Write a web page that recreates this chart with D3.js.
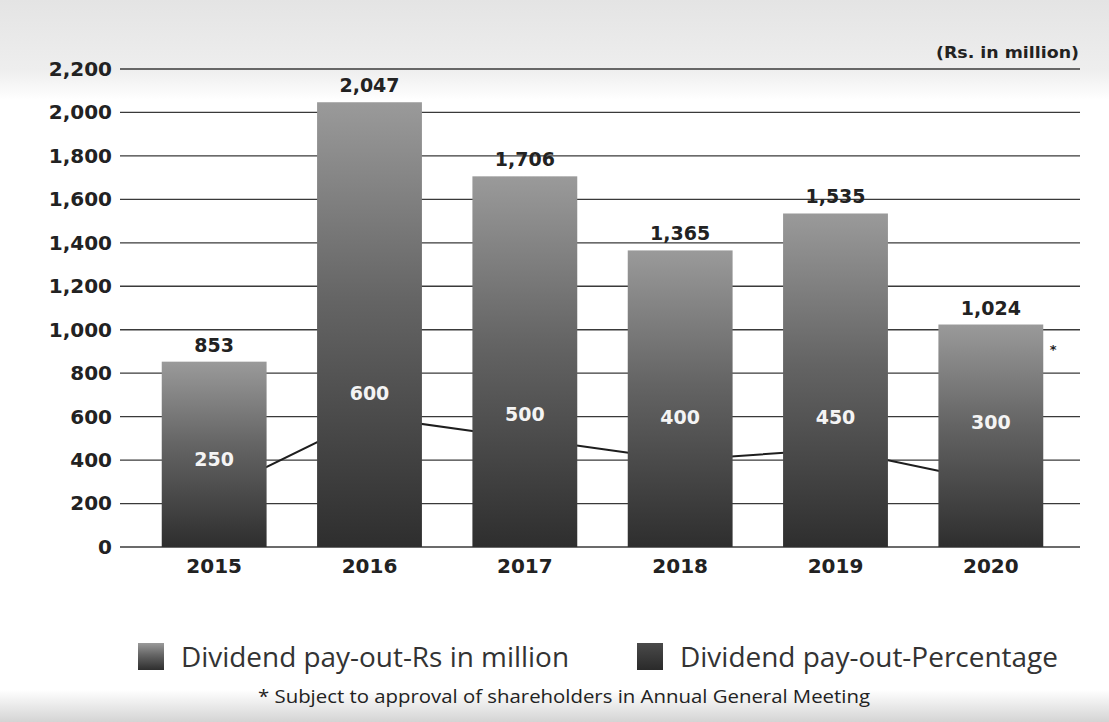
<!DOCTYPE html>
<html>
<head>
<meta charset="utf-8">
<script src="https://cdn.jsdelivr.net/npm/d3@7/dist/d3.min.js"></script>
<style>
  html, body { margin: 0; padding: 0; background: #fff; }
  svg { display: block; font-family: "DejaVu Sans", sans-serif; }
</style>
</head>
<body>
<svg id="chart" width="1109" height="722"></svg>
<script>
const years = ["2015", "2016", "2017", "2018", "2019", "2020"];
const payoutRs = [853, 2047, 1706, 1365, 1535, 1024];
const payoutPct = [250, 600, 500, 400, 450, 300];
const yTicks = [0, 200, 400, 600, 800, 1000, 1200, 1400, 1600, 1800, 2000, 2200];
const legendLabels = ["Dividend pay-out-Rs in million", "Dividend pay-out-Percentage"];
const unitLabel = "(Rs. in million)";
const footnote = "* Subject to approval of shareholders in Annual General Meeting";

const W = 1109, H = 722;
const svg = d3.select("#chart");
const defs = svg.append("defs");

// background bands
const topBg = defs.append("linearGradient").attr("id", "topBg").attr("x1", 0).attr("y1", 0).attr("x2", 0).attr("y2", 1);
topBg.append("stop").attr("offset", "0%").attr("stop-color", "#e4e4e4");
topBg.append("stop").attr("offset", "70%").attr("stop-color", "#eeeeee");
topBg.append("stop").attr("offset", "100%").attr("stop-color", "#ffffff");
svg.append("rect").attr("x", 0).attr("y", 0).attr("width", W).attr("height", 100).attr("fill", "url(#topBg)");
const botBg = defs.append("linearGradient").attr("id", "botBg").attr("x1", 0).attr("y1", 0).attr("x2", 0).attr("y2", 1);
botBg.append("stop").attr("offset", "0%").attr("stop-color", "#ffffff");
botBg.append("stop").attr("offset", "100%").attr("stop-color", "#d4d4d4");
svg.append("rect").attr("x", 0).attr("y", 690).attr("width", W).attr("height", 32).attr("fill", "url(#botBg)");

const barGrad = defs.append("linearGradient").attr("id", "barGrad").attr("x1", 0).attr("y1", 0).attr("x2", 0).attr("y2", 1);
barGrad.append("stop").attr("offset", "0%").attr("stop-color", "#9a9a9a");
barGrad.append("stop").attr("offset", "45%").attr("stop-color", "#646464");
barGrad.append("stop").attr("offset", "100%").attr("stop-color", "#2e2e2e");

const legGrad2 = defs.append("linearGradient").attr("id", "legGrad2").attr("x1", 0).attr("y1", 0).attr("x2", 0).attr("y2", 1);
legGrad2.append("stop").attr("offset", "0%").attr("stop-color", "#4a4a4a");
legGrad2.append("stop").attr("offset", "100%").attr("stop-color", "#2a2a2a");

const y = d3.scaleLinear().domain([0, 2200]).range([547, 69]);
const x = d3.scaleBand().domain(years).range([136.5, 1068.5]).paddingInner(0.325).paddingOuter(0.1625);

// y labels
const yAxis = d3.axisLeft(y).tickValues(yTicks).tickFormat(d3.format(",")).tickSize(0).tickPadding(0);
const gy = svg.append("g").attr("transform", "translate(112,0)").call(yAxis);
gy.select(".domain").remove();
gy.selectAll("text").attr("font-size", 20).attr("font-weight", 700).attr("fill", "#222")
  .attr("font-family", "'DejaVu Sans', sans-serif");

// grid lines
svg.append("g").selectAll("line").data(yTicks).join("line")
  .attr("x1", 120).attr("x2", 1080)
  .attr("y1", d => y(d)).attr("y2", d => y(d))
  .attr("stroke", "#3a3a3a").attr("stroke-width", 1.3);

// percentage line (behind bars)
const line = d3.line().x((d, i) => x(years[i]) + x.bandwidth() / 2).y(d => y(d));
svg.append("path").datum(payoutPct).attr("d", line)
  .attr("fill", "none").attr("stroke", "#1e1e1e").attr("stroke-width", 2);

// bars
svg.append("g").selectAll("rect").data(payoutRs).join("rect")
  .attr("x", (d, i) => x(years[i])).attr("width", x.bandwidth())
  .attr("y", d => y(d)).attr("height", d => y(0) - y(d))
  .attr("fill", "url(#barGrad)");

// value labels above bars
svg.append("g").selectAll("text").data(payoutRs).join("text")
  .attr("x", (d, i) => x(years[i]) + x.bandwidth() / 2)
  .attr("y", d => y(d) - 10)
  .attr("text-anchor", "middle").attr("font-size", 19).attr("font-weight", 700).attr("fill", "#222")
  .text(d3.format(","));

// percentage labels inside bars
svg.append("g").selectAll("text").data(payoutPct).join("text")
  .attr("x", (d, i) => x(years[i]) + x.bandwidth() / 2)
  .attr("y", (d, i) => y(Math.min(Math.max(d + 110, 600), payoutRs[i] - 450)) + 7)
  .attr("text-anchor", "middle").attr("font-size", 19).attr("font-weight", 700).attr("fill", "#f4f4f4")
  .text(d => d);

// x axis labels
const xAxis = d3.axisBottom(x).tickSize(0).tickPadding(0);
const gx = svg.append("g").attr("transform", "translate(0,559)").call(xAxis);
gx.select(".domain").remove();
gx.selectAll("text").attr("font-size", 20).attr("font-weight", 700).attr("fill", "#222")
  .attr("font-family", "'DejaVu Sans', sans-serif").attr("dy", "0.71em");

// asterisk for 2020
svg.append("text").attr("x", x("2020") + x.bandwidth() + 10).attr("y", y(1000) + 24)
  .attr("text-anchor", "middle").attr("font-size", 13).attr("font-weight", 700).attr("fill", "#222").text("*");

// unit label
svg.append("text").attr("x", 1079).attr("y", 58).attr("text-anchor", "end")
  .attr("font-size", 15).attr("font-weight", 700).attr("fill", "#222")
  .attr("textLength", 143).attr("lengthAdjust", "spacingAndGlyphs").text(unitLabel);

// legend
const leg = svg.append("g");
const legItems = [{x: 138, w: 388, fill: "url(#barGrad)"}, {x: 637, w: 378, fill: "url(#legGrad2)"}];
leg.selectAll("rect").data(legendLabels).join("rect")
  .attr("x", (d, i) => legItems[i].x).attr("y", 643).attr("width", 26).attr("height", 27)
  .attr("fill", (d, i) => legItems[i].fill);
leg.selectAll("text").data(legendLabels).join("text")
  .attr("x", (d, i) => legItems[i].x + 43).attr("y", 667)
  .attr("font-size", 27).attr("fill", "#333").attr("font-family", "'Open Sans', sans-serif")
  .attr("textLength", (d, i) => legItems[i].w).attr("lengthAdjust", "spacingAndGlyphs")
  .text(d => d);

// footnote
svg.append("text").attr("x", 258).attr("y", 703)
  .attr("font-size", 18).attr("fill", "#222").attr("font-family", "'Open Sans', sans-serif")
  .attr("textLength", 612).attr("lengthAdjust", "spacingAndGlyphs").text(footnote);
</script>
</body>
</html>
